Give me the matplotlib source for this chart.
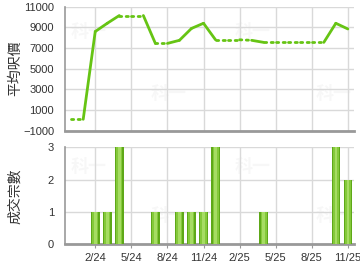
import numpy as np
import matplotlib
matplotlib.use("Agg")
import matplotlib.pyplot as plt

plt.rcParams["font.family"] = ["Liberation Sans", "Noto Sans CJK TC", "DejaVu Sans"]

# monthly data, 12/23 .. 11/25
months = ["12/23", "1/24", "2/24", "3/24", "4/24", "5/24", "6/24", "7/24",
          "8/24", "9/24", "10/24", "11/24", "12/24", "1/25", "2/25", "3/25",
          "4/25", "5/25", "6/25", "7/25", "8/25", "9/25", "10/25", "11/25"]
avg_price = [100, 100, 8600, 9400, 10150, 10150, 10150, 7450,
             7450, 7750, 8900, 9400, 7800, 7800, 7800, 7750,
             7550, 7550, 7550, 7550, 7550, 7550, 9400, 8850]
volume = [0, 0, 1, 1, 3, 0, 0, 1,
          0, 1, 1, 1, 3, 0, 0, 0,
          1, 0, 0, 0, 0, 0, 3, 2]
tick_labels = ["2/24", "5/24", "8/24", "11/24", "2/25", "5/25", "8/25", "11/25"]

line_green = "#66c414"
grid_c = "#d9d9d9"
tick_c = "#333333"

fig = plt.figure(figsize=(3.6, 2.7), dpi=100)
ax1 = fig.add_axes([0.181, 0.516, 0.802, 0.459])
ax2 = fig.add_axes([0.181, 0.095, 0.802, 0.359])

x = np.arange(len(months))
tick_pos = [months.index(m) for m in tick_labels]

# price line: solid where the month has deals, dotted otherwise
for i in range(len(x) - 1):
    style = "-" if volume[i + 1] > 0 else (0, (0.8, 1.6))
    ax1.plot(x[i:i + 2], avg_price[i:i + 2], color=line_green, lw=2,
             linestyle=style, solid_capstyle="round", dash_capstyle="round")

# bars with a simple shading
ax2.bar(x, volume, width=0.72, color="#5ea818", zorder=3)
ax2.bar(x, volume, width=0.5, color="#84c93a", zorder=3)
ax2.bar(x, volume, width=0.22, color="#a6dc63", zorder=3)

for ax in (ax1, ax2):
    ax.set_xlim(-0.5, len(x) - 0.5)
    ax.set_xticks(tick_pos)
    ax.grid(True, color=grid_c, lw=1)
    ax.set_axisbelow(True)
    for s in ("top", "right"):
        ax.spines[s].set_visible(False)
    ax.spines["left"].set_color("#999999")
    ax.spines["left"].set_linewidth(1.2)
    ax.spines["bottom"].set_color("#999999")
    ax.spines["bottom"].set_linewidth(2)
    ax.tick_params(axis="y", length=0, labelsize=8, colors=tick_c, pad=8)
    ax.tick_params(axis="x", length=3, color="#999999", labelsize=8, colors=tick_c)

ax1.set_ylim(-1000, 11000)
ax1.set_yticks(range(-1000, 11001, 2000))
ax1.tick_params(axis="x", labelbottom=False, length=0)
ax1.set_ylabel("平均呎價", fontsize=10, color=tick_c,
               family=["Noto Sans CJK TC"])
ax1.yaxis.set_label_coords(-0.15, 0.5)

ax2.set_ylim(0, 3)
ax2.set_yticks([0, 1, 2, 3])
ax2.set_xticklabels(tick_labels)
ax2.tick_params(axis="x", colors=tick_c, color="#999999")
ax2.set_ylabel("成交宗數", fontsize=10, color=tick_c,
               family=["Noto Sans CJK TC"])
ax2.yaxis.set_label_coords(-0.15, 0.5)

# faint watermark
for ax in (ax1, ax2):
    for wx, wy in [(0.08, 0.8), (0.65, 0.8), (0.36, 0.3), (0.93, 0.3)]:
        ax.text(wx, wy, "科一", transform=ax.transAxes, fontsize=13,
                color="#000000", alpha=0.03, ha="center", va="center",
                family=["Noto Sans CJK TC"], fontweight="bold", zorder=0)

fig.savefig("out.png", dpi=100, facecolor="white")
